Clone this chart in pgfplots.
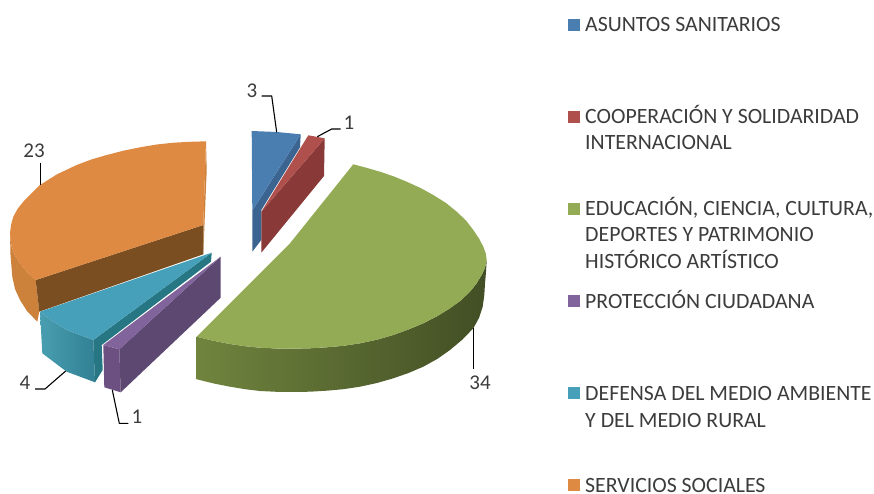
\documentclass[border=0pt]{standalone}
\usepackage{pgfplots}
\pgfplotsset{compat=1.18}
\usepackage{fontspec}
\setmainfont{Carlito}
\definecolor{blueT}{RGB}{74,126,177}
\definecolor{blueD}{RGB}{60,100,145}
\definecolor{redT}{RGB}{176,80,77}
\definecolor{redD}{RGB}{137,58,56}
\definecolor{greenT}{RGB}{147,171,84}
\definecolor{greenL}{RGB}{112,132,62}
\definecolor{greenD}{RGB}{66,78,36}
\definecolor{purT}{RGB}{128,100,155}
\definecolor{purL}{RGB}{108,80,130}
\definecolor{purD}{RGB}{92,72,112}
\definecolor{tealT}{RGB}{70,160,185}
\definecolor{tealL}{RGB}{72,158,176}
\definecolor{tealR}{RGB}{50,128,148}
\definecolor{tealD}{RGB}{38,118,132}
\definecolor{oraT}{RGB}{222,138,66}
\definecolor{oraS}{RGB}{205,130,60}
\definecolor{oraD}{RGB}{122,78,33}
\definecolor{txt}{RGB}{60,60,60}
\tikzset{leader/.style={draw=black, line width=1.1pt, line join=round},
  face/.style={draw=none}}
\begin{document}
\begin{tikzpicture}
\begin{axis}[
  scale only axis, width=874pt, height=494pt,
  xmin=0, xmax=874, ymin=0, ymax=494, y dir=reverse,
  hide axis, clip=false,
]
\path (axis cs:0,0) (axis cs:874,494);
% SERVICIOS SOCIALES (23)
\addplot[face, fill=oraS] coordinates {(10,233.3)(10.5,240)(11.7,246.7)(15,255.5)(20,263.3)(27,272)(35.7,280)(39.3,311.7)(37.3,321.7)(27,311)(20,300)(15,289)(12.3,276.7)(10.5,255)} --cycle;
\addplot[face, fill=oraS] coordinates {(206,141.3)(206.7,170)(203.3,254.3)(203.3,225)} --cycle;
\addplot[face, fill=oraD] coordinates {(35.7,280)(203.3,225)(203.3,254.3)(39.3,311.7)} --cycle;
\addplot[face, fill=oraT] coordinates {(206,141.3)(190,141.8)(173.3,142.7)(156,144.6)(140,147.3)(123,150.8)(106.7,155)(91,159.6)(76.7,165)(57,174.3)(40,185)(30.5,194.3)(23.3,201.7)(17.5,209)(13.3,216.7)(11,225)(10,233.3)(10.5,240)(11.7,246.7)(15,255.5)(20,263.3)(27,272)(35.7,280)(203.3,225)} --cycle;
% DEFENSA (4)
\addplot[face, left color=tealL, right color=tealR] coordinates {(40,311.7)(53.3,321.7)(66.7,330)(93.3,340)(95,382.3)(66.7,371.7)(42.3,353.3)} --cycle;
\addplot[face, fill=tealD] coordinates {(93.3,340)(211.7,252.7)(211,261.7)(101.7,345)(102.7,370)(95,382.3)} --cycle;
\addplot[face, fill=tealT] coordinates {(40,311.7)(53.3,321.7)(66.7,330)(93.3,340)(211.7,252.7)} --cycle;
% PROTECCION (1)
\addplot[face, fill=purL] coordinates {(103.3,345)(119.3,349.3)(120.7,392.3)(104.3,387.3)} --cycle;
\addplot[face, fill=purD] coordinates {(119.3,349.3)(220.7,256.7)(220.7,297.7)(120.7,392.3)} --cycle;
\addplot[face, fill=purT] coordinates {(103.3,345)(119.3,349.3)(220.7,256.7)} --cycle;
% ASUNTOS (3)
\addplot[face, fill=blueD] coordinates {(300.7,134.3)(300,147.3)(261.3,210)(261.3,240)(252.3,251.7)(252.3,210.7)} --cycle;
\addplot[face, fill=blueT] coordinates {(251.7,131)(276.7,132)(300.7,134.3)(252.3,210.7)} --cycle;
% COOPERACION (1)
\addplot[face, fill=redD] coordinates {(324.7,138.3)(324,176)(261.3,252.7)(261.3,211.7)} --cycle;
\addplot[face, fill=redT] coordinates {(308.3,135.3)(324.7,138.3)(261.3,211.7)} --cycle;
% EDUCACION (34)
\addplot[face, left color=greenL, middle color=greenD, right color=greenD] coordinates {(196.7,336.7)(213,340.7)(230,344)(245,346.2)(260,347.7)(276.5,348.5)(293.3,348.7)(310,348.3)(326.7,347.3)(343.5,345.8)(360,343.3)(377,339.7)(393.3,335)(408.5,329.5)(423.3,323.3)(437.5,316)(450,308.3)(461,300.3)(470,291.7)(476.5,283.5)(481.7,275)(485,267.7)(486.7,260)(486,272)(485,283.3)(484.3,295)(482.7,306.7)(479,318)(473.3,328.3)(462.5,339.5)(450,350)(437.5,358.8)(423.3,366.7)(408.5,373)(393.3,378.3)(377,383)(360,386.7)(343.5,389.2)(326.7,390.7)(310,391.7)(293.3,392)(276.5,391.8)(260,391)(245,389.2)(230,386.7)(213,383.3)(196.7,379.3)} --cycle;
\addplot[face, fill=greenT] coordinates {(353.3,164.3)(366.5,167.8)(380,171.7)(393.5,176.3)(406.7,181.7)(420.5,188)(433.3,195)(446,203)(456.7,211.7)(466,220.5)(473.3,230)(479,238.5)(483.3,246.7)(485.8,253.5)(486.7,260)(485,267.7)(481.7,275)(476.5,283.5)(470,291.7)(461,300.3)(450,308.3)(437.5,316)(423.3,323.3)(408.5,329.5)(393.3,335)(377,339.7)(360,343.3)(343.5,345.8)(326.7,347.3)(310,348.3)(293.3,348.7)(276.5,348.5)(260,347.7)(245,346.2)(230,344)(213,340.7)(196.7,336.7)(290,243.3)} --cycle;
% leaders
\addplot[leader] coordinates {(261.7,96)(271.7,96)(276.7,132.3)};
\addplot[leader] coordinates {(340.7,129)(331.7,129)(317.3,136.7)};
\addplot[leader] coordinates {(40.7,162.7)(40.7,185)};
\addplot[leader] coordinates {(35,389)(45,389)(65.7,371)};
\addplot[leader] coordinates {(128.3,423.3)(119.3,423.3)(112.3,390)};
\addplot[leader] coordinates {(473.3,328.3)(473.3,369)};
% data labels
\tikzset{dl/.style={inner sep=0pt, text=txt, font=\fontsize{21}{21}\selectfont}}
\node[dl] at (axis cs:252,91) {3};
\node[dl] at (axis cs:349,123) {1};
\node[dl] at (axis cs:34,151) {23};
\node[dl] at (axis cs:25,383) {4};
\node[dl] at (axis cs:137,417) {1};
\node[dl] at (axis cs:480,383) {34};
% legend
\addplot[face, fill=blueT] coordinates {(568.3,19.3)(580,19.3)(580,30.7)(568.3,30.7)} --cycle;
\addplot[face, fill=redT] coordinates {(568.3,111.3)(580,111.3)(580,122.7)(568.3,122.7)} --cycle;
\addplot[face, fill=greenT] coordinates {(568.3,203.3)(580,203.3)(580,214.7)(568.3,214.7)} --cycle;
\addplot[face, fill=purT] coordinates {(568.3,295.3)(580,295.3)(580,306.7)(568.3,306.7)} --cycle;
\addplot[face, fill=tealT] coordinates {(568.3,387.3)(580,387.3)(580,398.7)(568.3,398.7)} --cycle;
\addplot[face, fill=oraT] coordinates {(568.3,479.3)(580,479.3)(580,490.7)(568.3,490.7)} --cycle;
\tikzset{lt/.style={anchor=base west, inner sep=0pt, text=txt, font=\fontsize{21.8}{22}\selectfont}}
\node[lt] at (axis cs:585,31.5) {ASUNTOS SANITARIOS};
\node[lt] at (axis cs:585,123.5) {COOPERACIÓN Y SOLIDARIDAD};
\node[lt] at (axis cs:585,149.5) {INTERNACIONAL};
\node[lt] at (axis cs:585,215.5) {EDUCACIÓN, CIENCIA, CULTURA,};
\node[lt] at (axis cs:585,241.5) {DEPORTES Y PATRIMONIO};
\node[lt] at (axis cs:585,268.5) {HISTÓRICO ARTÍSTICO};
\node[lt] at (axis cs:585,308.5) {PROTECCIÓN CIUDADANA};
\node[lt] at (axis cs:585,400.5) {DEFENSA DEL MEDIO AMBIENTE};
\node[lt] at (axis cs:585,427.5) {Y DEL MEDIO RURAL};
\node[lt] at (axis cs:585,492) {SERVICIOS SOCIALES};
\end{axis}
\end{tikzpicture}
\end{document}
